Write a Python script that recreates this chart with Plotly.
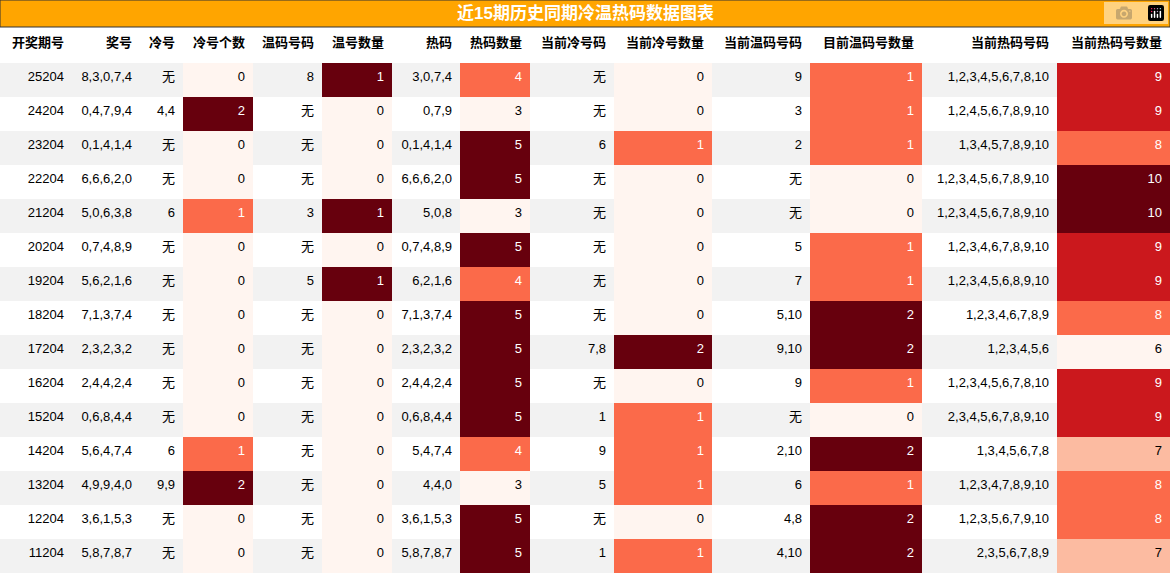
import plotly.graph_objects as go
import plotly.express as px

headers = ["开奖期号", "奖号", "冷号", "冷号个数", "温码号码", "温号数量", "热码", "热码数量",
           "当前冷号码", "当前冷号数量", "当前温码号码", "目前温码号数量", "当前热码号码", "当前热码号数量"]

issue = ["25204", "24204", "23204", "22204", "21204", "20204", "19204", "18204",
         "17204", "16204", "15204", "14204", "13204", "12204", "11204"]
draw = ["8,3,0,7,4", "0,4,7,9,4", "0,1,4,1,4", "6,6,6,2,0", "5,0,6,3,8", "0,7,4,8,9", "5,6,2,1,6",
        "7,1,3,7,4", "2,3,2,3,2", "2,4,4,2,4", "0,6,8,4,4", "5,6,4,7,4", "4,9,9,4,0", "3,6,1,5,3", "5,8,7,8,7"]
cold = ["无", "4,4", "无", "无", "6", "无", "无", "无", "无", "无", "无", "6", "9,9", "无", "无"]
cold_n = [0, 2, 0, 0, 1, 0, 0, 0, 0, 0, 0, 1, 2, 0, 0]
warm = ["8", "无", "无", "无", "3", "无", "5", "无", "无", "无", "无", "无", "无", "无", "无"]
warm_n = [1, 0, 0, 0, 1, 0, 1, 0, 0, 0, 0, 0, 0, 0, 0]
hot = ["3,0,7,4", "0,7,9", "0,1,4,1,4", "6,6,6,2,0", "5,0,8", "0,7,4,8,9", "6,2,1,6", "7,1,3,7,4",
       "2,3,2,3,2", "2,4,4,2,4", "0,6,8,4,4", "5,4,7,4", "4,4,0", "3,6,1,5,3", "5,8,7,8,7"]
hot_n = [4, 3, 5, 5, 3, 5, 4, 5, 5, 5, 5, 4, 3, 5, 5]
cur_cold = ["无", "无", "6", "无", "无", "无", "无", "无", "7,8", "无", "1", "9", "5", "无", "1"]
cur_cold_n = [0, 0, 1, 0, 0, 0, 0, 0, 2, 0, 1, 1, 1, 0, 1]
cur_warm = ["9", "3", "2", "无", "无", "5", "7", "5,10", "9,10", "9", "无", "2,10", "6", "4,8", "4,10"]
cur_warm_n = [1, 1, 1, 0, 0, 1, 1, 2, 2, 1, 0, 2, 1, 2, 2]
cur_hot = ["1,2,3,4,5,6,7,8,10", "1,2,4,5,6,7,8,9,10", "1,3,4,5,7,8,9,10", "1,2,3,4,5,6,7,8,9,10",
           "1,2,3,4,5,6,7,8,9,10", "1,2,3,4,6,7,8,9,10", "1,2,3,4,5,6,8,9,10", "1,2,3,4,6,7,8,9",
           "1,2,3,4,5,6", "1,2,3,4,5,6,7,8,10", "2,3,4,5,6,7,8,9,10", "1,3,4,5,6,7,8",
           "1,2,3,4,7,8,9,10", "1,2,3,5,6,7,9,10", "2,3,5,6,7,8,9"]
cur_hot_n = [9, 9, 8, 10, 10, 9, 9, 8, 6, 9, 9, 7, 8, 8, 7]

columns = [issue, draw, cold, cold_n, warm, warm_n, hot, hot_n,
           cur_cold, cur_cold_n, cur_warm, cur_warm_n, cur_hot, cur_hot_n]
numeric = {3, 5, 7, 9, 11, 13}
widths = [72, 68, 43, 70, 69, 70, 68, 70, 84, 98, 98, 112, 135, 113]

reds = px.colors.sequential.Reds
n = len(issue)
stripe = ["#f2f2f2" if i % 2 == 0 else "#ffffff" for i in range(n)]

fills, fcolors = [], []
for j, col in enumerate(columns):
    if j in numeric:
        lo, hi = min(col), max(col)
        f, c = [], []
        for v in col:
            t = (v - lo) / (hi - lo) if hi > lo else 0
            f.append(reds[round(t * 8)])
            c.append("white" if t >= 0.5 else "black")
        fills.append(f)
        fcolors.append(c)
    else:
        fills.append(stripe)
        fcolors.append(["black"] * n)

font_family = "Liberation Sans, Noto Sans CJK SC, sans-serif"
fig = go.Figure(go.Table(
    columnwidth=widths,
    domain=dict(x=[0, 1], y=[0, 1 - 27 / 574]),
    header=dict(values=[f"<b>{h}</b>" for h in headers], fill_color="white",
                line_width=0, align="right", height=36,
                font=dict(family=font_family, size=13, color="black")),
    cells=dict(values=columns, fill_color=fills, line_width=0, align="right", height=34,
               font=dict(family=font_family, size=13, color=fcolors)),
))
fig.add_shape(type="rect", xref="paper", yref="paper", x0=0, x1=1, y0=1 - 27 / 574, y1=1,
              fillcolor="#FFA500", line=dict(color="#333", width=1))
fig.add_annotation(text="<b>近15期历史同期冷温热码数据图表</b>", xref="paper", yref="paper",
                   x=0.5, y=1 - 13.5 / 574, yanchor="middle", showarrow=False,
                   font=dict(family=font_family, size=17, color="white"))
fig.update_layout(width=1170, height=574, margin=dict(l=0, r=0, t=0, b=0),
                  paper_bgcolor="white")
fig.write_html("out.html", post_script="document.body.style.margin='0';")
